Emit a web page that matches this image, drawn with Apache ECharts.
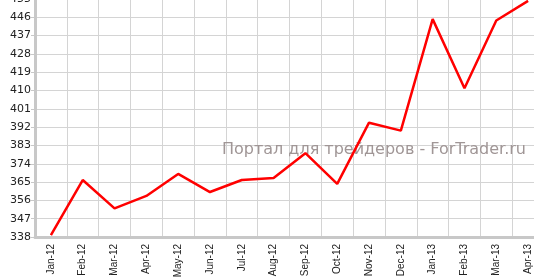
<!DOCTYPE html>
<html><head><meta charset="utf-8">
<script src="https://cdn.jsdelivr.net/npm/echarts@6/dist/echarts.min.js"></script>
<style>html,body{margin:0;padding:0;background:#fff}#c{width:534px;height:278px}</style>
</head><body><div id="c"></div>
<script>
var categories = ["Jan-12","Feb-12","Mar-12","Apr-12","May-12","Jun-12","Jul-12","Aug-12","Sep-12","Oct-12","Nov-12","Dec-12","Jan-13","Feb-13","Mar-13","Apr-13"];
var values = [338.9, 366.0, 352.1, 358.2, 369.0, 360.1, 366.0, 367.0, 379.2, 364.1, 394.2, 390.3, 445.1, 411.1, 444.4, 454.1];
var yMin = 338, yMax = 455, yStep = 9;
var watermark = "Портал для трейдеров - ForTrader.ru";

var chart = echarts.init(document.getElementById('c'), null, {renderer:'canvas'});
chart.setOption({
  animation:false,
  backgroundColor:'#ffffff',
  grid:{left:35, width:509, bottom:41, height:238, containLabel:false, outerBoundsMode:'none'},
  xAxis:{
    type:'category', data:categories, boundaryGap:true,
    axisLine:{lineStyle:{color:'#c8c8c8', width:3}},
    axisTick:{alignWithLabel:true, length:4, lineStyle:{color:'#c8c8c8'}},
    axisLabel:{rotate:90, fontFamily:'Liberation Sans, Arial', fontSize:10, color:'#222', margin:7, interval:0},
    splitLine:{show:true, lineStyle:{color:'#d4d4d4', width:1}}
  },
  yAxis:{
    type:'value', min:yMin, max:yMax, interval:yStep,
    axisLine:{show:true, lineStyle:{color:'#c8c8c8', width:3}},
    axisTick:{show:true, length:4, lineStyle:{color:'#c8c8c8'}},
    axisLabel:{fontFamily:'DejaVu Sans, Verdana', fontSize:11, color:'#222', margin:4},
    splitLine:{show:true, lineStyle:{color:'#d4d4d4', width:1}}
  },
  graphic:[{type:'text', right:8, top:142, z:1,
    style:{text:watermark, fontFamily:'DejaVu Sans, Verdana', fontSize:16, fill:'#a09696'}}],
  series:[{type:'line', data:values, showSymbol:false, z:5,
    lineStyle:{color:'#ff0000', width:2.5}}]
});
</script></body></html>
